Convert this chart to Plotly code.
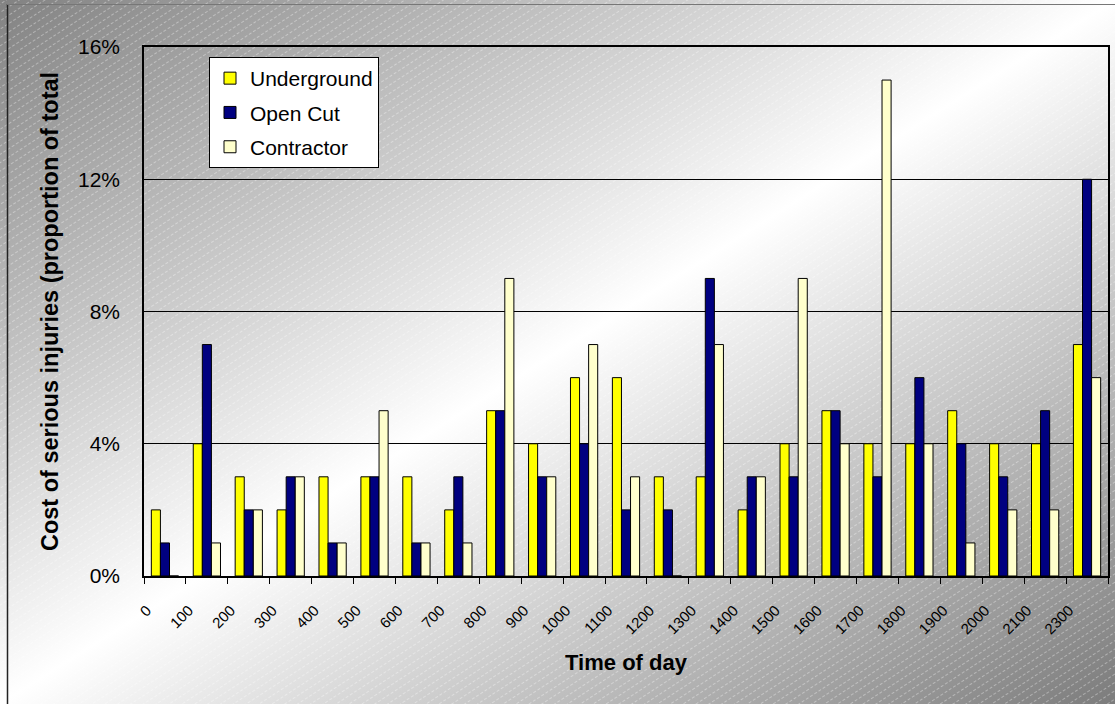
import base64
import plotly.graph_objects as go

# Time-of-day categories (24h clock, hourly buckets)
times = ["0", "100", "200", "300", "400", "500", "600", "700", "800", "900",
         "1000", "1100", "1200", "1300", "1400", "1500", "1600", "1700",
         "1800", "1900", "2000", "2100", "2300"]

# Share of serious-injury cost, in percent of each workforce's total
underground = [2, 4, 3, 2, 3, 3, 3, 2, 5, 4, 6, 6, 3, 3, 2, 4, 5, 4, 4, 5, 4, 4, 7]
open_cut = [1, 7, 2, 3, 1, 3, 1, 3, 5, 3, 4, 2, 2, 9, 3, 3, 5, 3, 6, 4, 3, 5, 12]
contractor = [0, 1, 2, 3, 1, 5, 1, 1, 9, 3, 7, 3, 0, 7, 3, 9, 4, 15, 4, 1, 2, 2, 6]

y_ticks = [0, 0.04, 0.08, 0.12, 0.16]

W, H = 1115, 704
ML, MR, MT, MB = 144, 7, 47, 128
PW, PH = W - ML - MR, H - MT - MB

FONT = "Liberation Sans, Arial, sans-serif"


def px_x(px):
    return (px - ML) / PW


def px_y(py):
    return (H - MB - py) / PH


# Diagonal grey-white-grey gradient with faint diagonal hatching
svg = f"""<svg xmlns="http://www.w3.org/2000/svg" width="{W}" height="{H}" viewBox="0 0 {W} {H}" preserveAspectRatio="none">
<defs>
<linearGradient id="g" x1="0" y1="0" x2="1" y2="1">
<stop offset="0" stop-color="#828282"/>
<stop offset="0.5" stop-color="#ffffff"/>
<stop offset="1" stop-color="#7c7c7c"/>
</linearGradient>
<pattern id="h" width="10" height="7" patternUnits="userSpaceOnUse" patternTransform="rotate(-33)">
<line x1="0" y1="3.5" x2="10" y2="3.5" stroke="#ffffff" stroke-opacity="0.35" stroke-width="1" stroke-dasharray="3 2"/>
</pattern>
</defs>
<rect width="{W}" height="{H}" fill="url(#g)"/>
<rect width="{W}" height="{H}" fill="url(#h)"/>
</svg>"""
bg_src = "data:image/svg+xml;base64," + base64.b64encode(svg.encode()).decode()

series = [
    ("Underground", underground, "#FFFF00"),
    ("Open Cut", open_cut, "#000080"),
    ("Contractor", contractor, "#FFFFCC"),
]

fig = go.Figure()
for name, vals, color in series:
    fig.add_trace(go.Bar(
        x=times,
        y=[v / 100 for v in vals],
        name=name,
        legendgroup=name,
        marker=dict(color=color, line=dict(color="black", width=1)),
    ))

fig.update_layout(
    width=W, height=H,
    margin=dict(l=ML, r=MR, t=MT, b=MB, autoexpand=False),
    paper_bgcolor="white",
    plot_bgcolor="rgba(0,0,0,0)",
    barmode="group",
    bargap=0.35,
    bargroupgap=0,
    font=dict(family=FONT, color="black"),
    legend=dict(
        x=px_x(209), y=px_y(57), xanchor="left", yanchor="top",
        bgcolor="white", bordercolor="black", borderwidth=1,
        font=dict(size=21, family=FONT),
        tracegroupgap=4,
    ),
    images=[dict(
        source=bg_src, xref="paper", yref="paper",
        x=px_x(0), y=px_y(0), sizex=W / PW, sizey=H / PH,
        xanchor="left", yanchor="top", sizing="stretch", layer="below",
    )],
    shapes=[
        dict(type="line", xref="paper", yref="paper",
             x0=px_x(7.5), x1=px_x(7.5), y0=px_y(4), y1=px_y(H),
             line=dict(color="#222222", width=1.5)),
        dict(type="line", xref="paper", yref="paper",
             x0=px_x(7), x1=px_x(W), y0=px_y(4.5), y1=px_y(4.5),
             line=dict(color="#777777", width=1)),
    ],
)

fig.update_xaxes(
    type="category",
    categoryorder="array", categoryarray=times,
    dtick=1,
    tickson="boundaries",
    ticks="outside", ticklen=6, tickcolor="black", tickwidth=1,
    tickangle=-45,
    ticklabelshift=-18,
    ticklabelstandoff=18,
    tickfont=dict(size=15, family=FONT),
    showline=True, linecolor="black", linewidth=1.5, mirror=True,
    showgrid=False,
    automargin=False,
    title=dict(text="<b>Time of day</b>", font=dict(size=22, family=FONT), standoff=18),
)

fig.update_yaxes(
    range=[0, 0.16],
    tickvals=y_ticks,
    tickformat=".0%",
    tickfont=dict(size=21, family=FONT),
    ticks="",
    ticklabelstandoff=18,
    showline=True, linecolor="black", linewidth=1.5, mirror=True,
    showgrid=True, gridcolor="black", gridwidth=1.2,
    zeroline=False,
    automargin=False,
    title=dict(text="<b>Cost of serious injuries (proportion of total</b>",
               font=dict(size=23.5, family=FONT), standoff=13),
)

fig.write_html("out.html")
